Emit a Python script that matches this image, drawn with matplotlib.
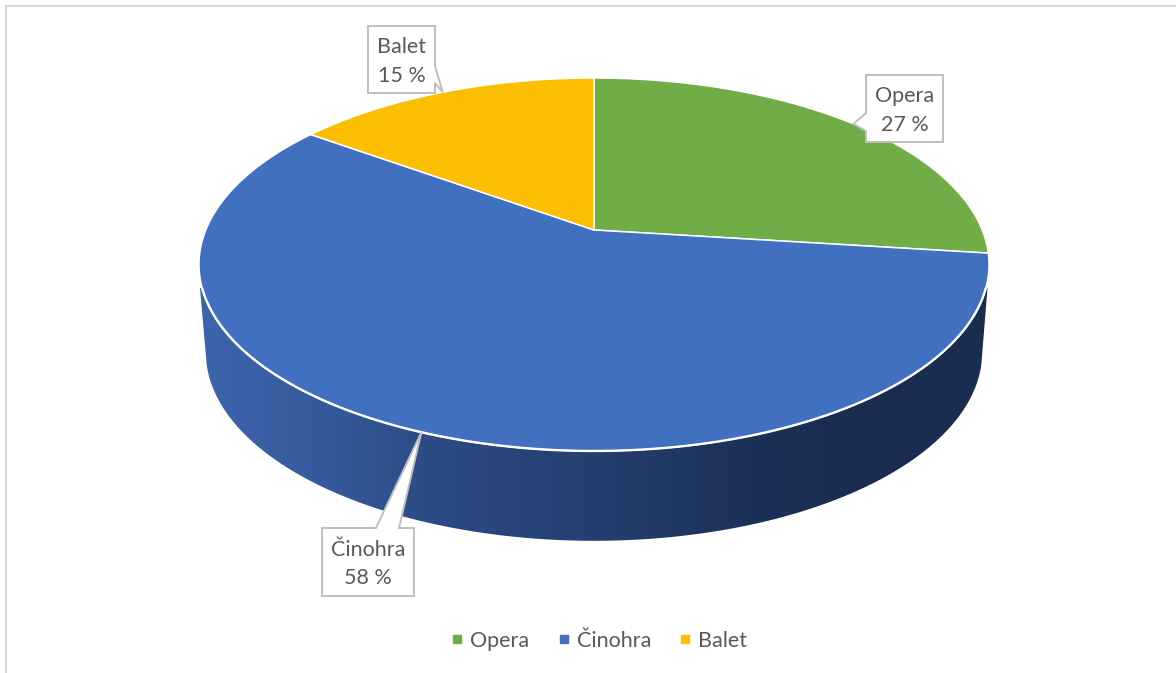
import numpy as np
import matplotlib
matplotlib.use("Agg")
import matplotlib.pyplot as plt
from matplotlib.colors import LinearSegmentedColormap
from matplotlib.lines import Line2D
from matplotlib.patches import Polygon

plt.rcParams["font.family"] = ["Lato", "DejaVu Sans"]

categories = ["Opera", "Činohra", "Balet"]
shares = [27, 58, 15]
colors = ["#70AD47", "#4270C1", "#FBBE00"]
TEXT = "#595959"

# callout boxes: left, top, right, bottom and where the pointer leaves the box
boxes = {
    "Opera": ((866, 75, 943, 142), [(866, 113), (866, 131)]),
    "Činohra": ((322, 528, 414, 596), [(376, 528), (399, 528)]),
    "Balet": ((368, 26, 435, 93), [(435, 66), (435, 83)]),
}

# perspective of the disc, all in pixels
CX, APEX_Y = 594, 230
K = 0.185
HALF_W, HALF_H = 388.2, 180.1
LOWER_APEX_Y, LOWER_W, LOWER_H = 317, 381.5, 182.4


def project(theta, half_w=HALF_W, half_h=HALF_H, apex_y=APEX_Y):
    # theta in radians, clockwise from the back of the disc
    w = 1 + K * np.cos(theta)
    return CX + half_w * np.sin(theta) / w, apex_y - half_h * np.cos(theta) / w


fig = plt.figure(figsize=(11.76, 6.73), dpi=100)
ax = fig.add_axes([0, 0, 1, 1])
ax.set_xlim(0, 1176)
ax.set_ylim(673, 0)
ax.axis("off")

# chart frame
ax.plot([5.5, 5.5, 1176], [673, 5.5, 5.5], color="#D9D9D9", lw=1.5, zorder=1)

# side wall: lower rim plus the widest part of the top rim, filled with a gradient
t = np.linspace(np.pi * 1.42, np.pi * 0.58, 200)
lx, ly = project(t, LOWER_W, LOWER_H, LOWER_APEX_Y)
wall = np.vstack([[200, 288], np.column_stack([lx, ly]), [987.5, 288]])
wall_patch = Polygon(wall, closed=True, facecolor="none", edgecolor="none", transform=ax.transData)
ax.add_patch(wall_patch)
stops = [(200, "#3D65AD"), (320, "#355A9C"), (430, "#2C4B85"), (600, "#243E6E"),
         (750, "#1C3158"), (850, "#1A2C50"), (990, "#1A2C50")]
cmap = LinearSegmentedColormap.from_list(
    "wall", [((x - 200) / 790, c) for x, c in stops])
grad = ax.imshow(np.linspace(0, 1, 512)[None, :], extent=(200, 990, 545, 260),
                 cmap=cmap, aspect="auto", zorder=2)
grad.set_clip_path(wall_patch)
ax.set_xlim(0, 1176)
ax.set_ylim(673, 0)

# top face, one wedge per category
start = 0.0
mids = []
for share, color in zip(shares, colors):
    end = start + share / sum(shares) * 2 * np.pi
    th = np.linspace(start, end, 240)
    x, y = project(th)
    pts = np.vstack([[CX, APEX_Y], np.column_stack([x, y])])
    ax.add_patch(Polygon(pts, closed=True, facecolor=color, edgecolor="white",
                         lw=1.1, joinstyle="round", zorder=3))
    mids.append((start + end) / 2)
    start = end

# the white rim is heavier along the front of the disc
front = np.linspace(np.pi * 0.6, np.pi * 1.4, 200)
ax.plot(*project(front), color="white", lw=1.7, zorder=3.5)

# callouts point at the middle of each wedge's rim
for name, share, mid in zip(categories, shares, mids):
    (left, top, right, bottom), (p1, p2) = boxes[name]
    tip = project(mid)
    corners = [(left, top), (right, top), (right, bottom), (left, bottom)]
    if p1[0] == left:
        outline = [corners[0], corners[1], corners[2], corners[3], p2, tip, p1]
    elif p1[0] == right:
        outline = [corners[0], corners[1], p1, tip, p2, corners[2], corners[3]]
    else:
        outline = [corners[0], p1, tip, p2, corners[1], corners[2], corners[3]]
    ax.add_patch(Polygon(outline, closed=True, facecolor="white", edgecolor="#BFBFBF",
                         lw=1.4, joinstyle="miter", zorder=4))
    cy = (top + bottom) / 2
    ax.text((left + right) / 2, cy - 12.5, name, ha="center", va="center",
            fontsize=15.5, color=TEXT, zorder=5)
    ax.text((left + right) / 2, cy + 16.5, f"{share} %", ha="center", va="center",
            fontsize=15.5, color=TEXT, zorder=5)

handles = [Line2D([], [], linestyle="none", marker="s", markersize=5.8, color=c, label=n)
           for n, c in zip(categories, colors)]
ax.legend(handles=handles, loc="center", bbox_to_anchor=(599, 641),
          bbox_transform=ax.transData, ncol=3, frameon=False, fontsize=15.5,
          labelcolor=TEXT, handlelength=0.6, handletextpad=0.3, columnspacing=1.3,
          borderpad=0)

fig.savefig("out.png", dpi=100, facecolor="white")
